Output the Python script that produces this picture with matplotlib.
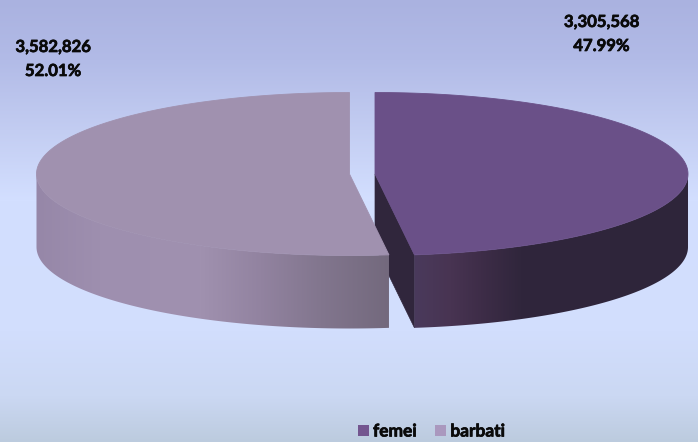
import numpy as np
import matplotlib
matplotlib.use('Agg')
import matplotlib.pyplot as plt
import matplotlib.patheffects as pe
from matplotlib.patches import Polygon, Patch

# date
categories = ['femei', 'barbati']
values = [3305568, 3582826]
percent_labels = ['47.99%', '52.01%']

top_colors = ['#6A5088', '#A091AF']
legend_colors = ['#73558F', '#AA98BE']

plt.rcParams['font.family'] = ['Lato', 'DejaVu Sans']

# geometria pie-ului, in pixeli
RX = 313
RY = 81.5
DEPTH = 73
CY = 174
CX_RIGHT = 375
CX_LEFT = 349.5

# textul din original e mai gros decat Lato Bold
THICK = [pe.withStroke(linewidth=0.5, foreground='#0A0A0A')]


def gradient_image(xs, stops_x, stops_rgb):
    rgb = np.array(stops_rgb) / 255.0
    return np.stack([np.interp(xs, stops_x, rgb[:, i]) for i in range(3)], axis=-1)


def arc(cx, cy, a_start, a_end):
    t = np.radians(np.linspace(a_start, a_end, 200))
    return np.column_stack([cx + RX * np.cos(t), cy + RY * np.sin(t)])


def draw_side(ax, cx, a_start, a_end, stops_x, stops_rgb, z):
    outer_top = arc(cx, CY, a_start, a_end)
    outer_bottom = arc(cx, CY + DEPTH, a_end, a_start)
    poly = Polygon(np.vstack([outer_top, outer_bottom]), closed=True, fc='none', ec='none',
                   transform=ax.transData)
    ax.add_patch(poly)
    xs = np.arange(0, 698)
    img = gradient_image(xs, stops_x, stops_rgb)[np.newaxis, :, :]
    im = ax.imshow(img, extent=[0, 698, 442, 0], aspect='auto', zorder=z)
    im.set_clip_path(poly)


def draw_label(ax, x, y, text):
    ax.text(x, y, text, ha='center', va='center', fontsize=12, fontweight='bold',
            color='#0A0A0A', zorder=6, path_effects=THICK)


fig = plt.figure(figsize=(6.98, 4.42), dpi=100)
ax = fig.add_axes([0, 0, 1, 1])

# fundal
ys = np.arange(0, 442)
bg = gradient_image(ys, [0, 60, 130, 200, 330, 395, 442],
                    [(170, 178, 224), (178, 187, 231), (195, 205, 242), (211, 223, 255),
                     (210, 222, 253), (203, 216, 243), (188, 203, 222)])
ax.imshow(bg[:, np.newaxis, :], extent=[0, 698, 442, 0], aspect='auto', zorder=0)

# unghiuri din valori (sens orar de la ora 12, y in jos pe ecran)
share = values[0] / sum(values)
split = -90 + 360 * share

# felia din dreapta: fata taiata, apoi lateral si sus
a = arc(CX_RIGHT, CY, split, split)[0]
ax.add_patch(Polygon([(CX_RIGHT, CY), a, (a[0], a[1] + DEPTH), (CX_RIGHT, CY + DEPTH)],
                     fc='#30263C', ec='#30263C', lw=0.5, zorder=1))
draw_side(ax, CX_RIGHT, 0, split, [414, 450, 480, 520, 698],
          [(74, 58, 92), (72, 52, 82), (62, 45, 72), (48, 38, 60), (46, 37, 58)], 2)
ax.add_patch(Polygon(np.vstack([[(CX_RIGHT, CY)], arc(CX_RIGHT, CY, -90, split)]),
                     fc=top_colors[0], ec=top_colors[0], lw=0.6, zorder=3))

# felia din stanga
draw_side(ax, CX_LEFT, split, 180, [36, 100, 200, 260, 320, 389],
          [(150, 135, 168), (158, 143, 175), (160, 145, 175), (146, 131, 160),
           (130, 118, 142), (115, 105, 125)], 4)
ax.add_patch(Polygon(np.vstack([[(CX_LEFT, CY)], arc(CX_LEFT, CY, split, 270)]),
                     fc=top_colors[1], ec=top_colors[1], lw=0.6, zorder=5))

ax.set_xlim(0, 698)
ax.set_ylim(442, 0)
ax.axis('off')

# etichete
draw_label(ax, 601.5, 22, f'{values[0]:,}')
draw_label(ax, 601.5, 46, percent_labels[0])
draw_label(ax, 53, 47, f'{values[1]:,}')
draw_label(ax, 53, 71, percent_labels[1])

handles = [Patch(fc=c, ec='none', label=n) for c, n in zip(legend_colors, categories)]
leg = ax.legend(handles=handles, ncol=2, frameon=False, loc='center',
                bbox_to_anchor=(431.5 / 698, 1 - 431.5 / 442),
                prop={'family': ['Lato'], 'weight': 'bold', 'size': 12.5},
                handlelength=0.62, handleheight=0.62,
                handletextpad=0.25, columnspacing=1.05, labelcolor='#0A0A0A')
for t in leg.get_texts():
    t.set_path_effects(THICK)

fig.savefig('out.png', dpi=100)
